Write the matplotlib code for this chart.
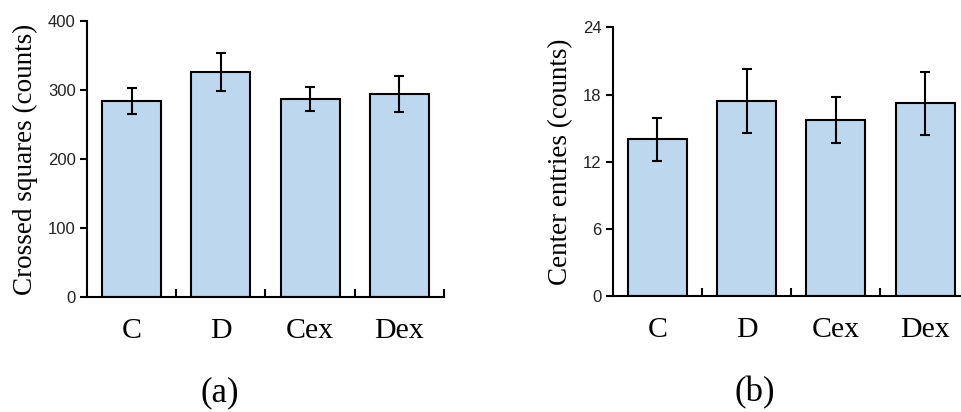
import numpy as np
import matplotlib.pyplot as plt
from matplotlib.ticker import FixedLocator

groups = ['C', 'D', 'Cex', 'Dex']

squares = [284, 326, 287, 294]
squares_err = [19, 28, 18, 26]

entries = [14.0, 17.4, 15.7, 17.2]
entries_err = [1.9, 2.85, 2.05, 2.8]

bar_color = '#bdd7ee'
serif = 'Liberation Serif'
sans = 'Liberation Sans'

fig = plt.figure(figsize=(9.61, 4.12), dpi=100)
ax1 = fig.add_axes([0.0905, 0.279, 0.3715, 0.670])
ax2 = fig.add_axes([0.6376, 0.2816, 0.3715, 0.652])


def draw(ax, vals, errs, top, step, ylabel):
    x = np.arange(len(groups))
    ax.bar(x, vals, width=0.66, color=bar_color, edgecolor='black', lw=1.5, zorder=2)
    ax.errorbar(x, vals, yerr=errs, fmt='none', ecolor='black', elinewidth=1.5,
                capsize=3.5, capthick=1.5, zorder=3)
    ax.set_xlim(-0.5, len(groups) - 0.5)
    ax.set_ylim(0, top)
    ax.set_yticks(np.arange(0, top + step, step))
    for lab in ax.get_yticklabels():
        lab.set_fontfamily(sans)
        lab.set_fontsize(12)
        lab.set_color('#222222')
    ax.set_xticks(x)
    ax.set_xticklabels(groups, fontfamily=serif, fontsize=21.5)
    ax.tick_params(axis='x', which='major', length=0, pad=15)
    ax.xaxis.set_minor_locator(FixedLocator(np.arange(0.5, len(groups), 1.0)))
    ax.tick_params(axis='x', which='minor', direction='in', length=6, width=1.5)
    ax.tick_params(axis='y', direction='out', length=5, width=1.5, pad=3)
    for s in ['top', 'right']:
        ax.spines[s].set_visible(False)
    for s in ['left', 'bottom']:
        ax.spines[s].set_linewidth(1.5)
    ax.set_ylabel(ylabel, fontfamily=serif, fontsize=19.5, labelpad=7)


draw(ax1, squares, squares_err, 400, 100, 'Crossed squares (counts)')
draw(ax2, entries, entries_err, 24, 6, 'Center entries (counts)')

fig.text(220 / 961, 1 - 393 / 412, '(a)', fontfamily=serif, fontsize=25, ha='center', va='center')
fig.text(755 / 961, 1 - 393 / 412, '(b)', fontfamily=serif, fontsize=25, ha='center', va='center')

fig.savefig('out.png', dpi=100)
